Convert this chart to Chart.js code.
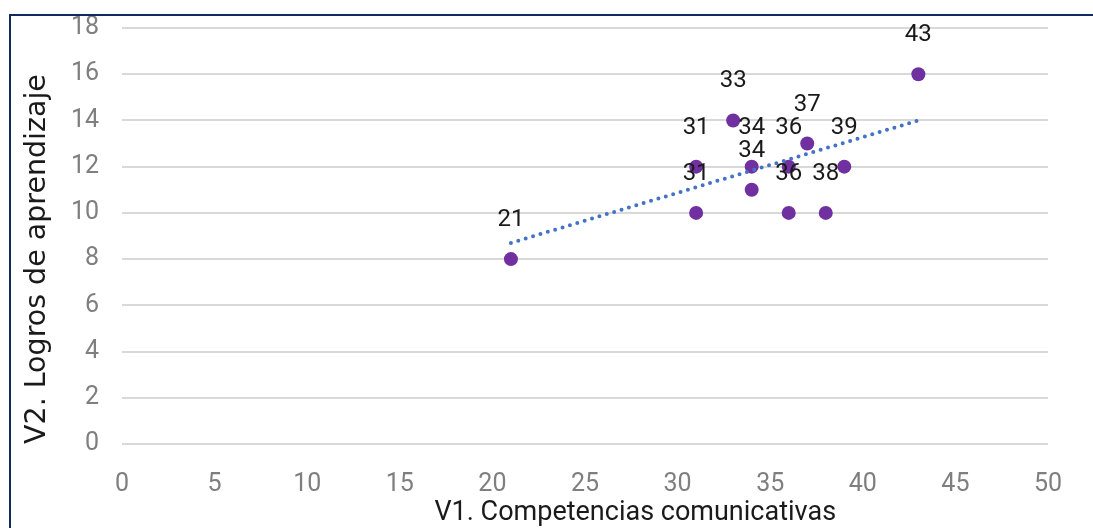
<!DOCTYPE html>
<html>
<head>
<meta charset="utf-8">
<script src="https://cdn.jsdelivr.net/npm/chart.js@4"></script>
<style>
  html, body { margin: 0; padding: 0; background: #ffffff; overflow: hidden; }
  #wrap { position: relative; width: 1093px; height: 528px; }
  #frame { position: absolute; left: 9px; top: 14px; width: 1200px; height: 700px;
           border-left: 2px solid #10295e; border-top: 2px solid #10295e; pointer-events: none; }
  canvas { position: absolute; left: 0; top: 0; }
</style>
</head>
<body>
<div id="wrap">
  <canvas id="c" width="1093" height="528"></canvas>
  <div id="frame"></div>
</div>
<script>
// Data
const xValues = [21, 31, 31, 33, 34, 34, 36, 36, 37, 38, 39, 43];
const yValues = [8, 12, 10, 14, 12, 11, 12, 10, 13, 10, 12, 16];
const pointLabels = ['21', '31', '31', '33', '34', '34', '36', '36', '37', '38', '39', '43'];
// Trendline end points as drawn in the reference
const trendX = [21, 43];
const trendY = [8.7, 14.0];
const xTicks = [0, 5, 10, 15, 20, 25, 30, 35, 40, 45, 50];
const yTicks = [0, 2, 4, 6, 8, 10, 12, 14, 16, 18];
const xTitle = 'V1. Competencias comunicativas';
const yTitle = 'V2. Logros de aprendizaje';

const points = xValues.map((x, i) => ({ x: x, y: yValues[i] }));
const trend = trendX.map((x, i) => ({ x: x, y: trendY[i] }));

const narrow = "'Liberation Sans Narrow', 'Roboto', sans-serif";

const labelPlugin = {
  id: 'pointLabels',
  afterDatasetsDraw(chart) {
    const meta = chart.getDatasetMeta(0);
    const ctx = chart.ctx;
    ctx.save();
    ctx.font = "24px " + narrow;
    ctx.fillStyle = '#1a1a1a';
    ctx.textAlign = 'center';
    ctx.textBaseline = 'middle';
    meta.data.forEach((el, i) => {
      ctx.fillText(pointLabels[i], el.x, el.y - 39);
    });
    ctx.restore();
  }
};

new Chart(document.getElementById('c'), {
  type: 'scatter',
  data: {
    datasets: [
      {
        label: 'V1 vs V2',
        data: points,
        backgroundColor: '#7030a0',
        borderColor: '#7030a0',
        pointRadius: 7,
        pointHoverRadius: 7,
        borderWidth: 0,
        order: 2
      },
      {
        label: 'Tendencia',
        type: 'line',
        data: trend,
        borderColor: '#4472c4',
        borderWidth: 4,
        borderDash: [0, 7.7],
        borderCapStyle: 'round',
        pointRadius: 0,
        fill: false,
        tension: 0,
        order: 1
      }
    ]
  },
  options: {
    responsive: false,
    animation: false,
    devicePixelRatio: 1,
    layout: { padding: { left: 0, right: 45, top: 28, bottom: 0 } },
    plugins: { legend: { display: false }, tooltip: { enabled: false } },
    scales: {
      x: {
        type: 'linear',
        min: 0, max: 50,
        afterBuildTicks: (s) => { s.ticks = xTicks.map(v => ({ value: v })); },
        afterFit: (s) => { s.height = 84; },
        grid: { display: false, drawTicks: false },
        border: { display: false },
        ticks: { color: '#7f7f7f', padding: 26, font: { family: narrow, size: 25 } },
        title: {
          display: true,
          text: '               ' + xTitle,
          color: '#1a1a1a',
          font: { family: 'Roboto', size: 27, lineHeight: 1 },
          padding: { top: 0, bottom: 1 }
        }
      },
      y: {
        type: 'linear',
        min: 0, max: 18,
        afterBuildTicks: (s) => { s.ticks = yTicks.map(v => ({ value: v })); },
        afterFit: (s) => { s.width = 122; },
        grid: { color: '#d9d9d9', lineWidth: 2, drawTicks: true, tickLength: 20, tickColor: 'rgba(0,0,0,0)' },
        border: { display: false },
        ticks: { color: '#7f7f7f', padding: 3, font: { family: narrow, size: 25 } },
        title: {
          display: true,
          text: yTitle,
          align: 'start',
          color: '#1a1a1a',
          font: { family: "'DejaVu Sans'", size: 28.5 },
          padding: { top: 20, bottom: 0 }
        }
      }
    }
  },
  plugins: [labelPlugin]
});
</script>
</body>
</html>
